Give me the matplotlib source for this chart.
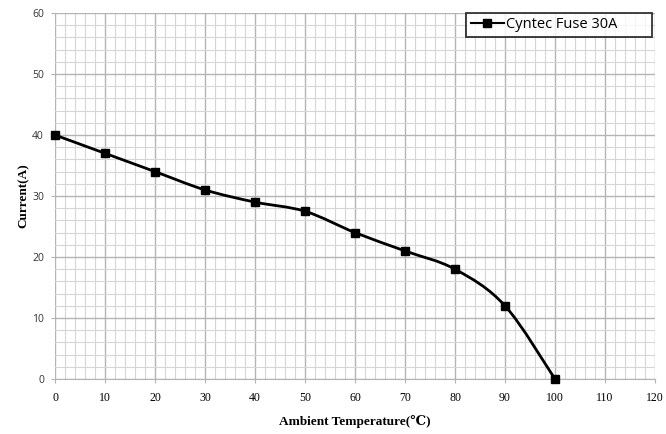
import matplotlib as mpl
mpl.use('Agg')
import matplotlib.pyplot as plt
from matplotlib.path import Path
from matplotlib.patches import PathPatch
from matplotlib.lines import Line2D
import numpy as np

temps = [0, 10, 20, 30, 40, 50, 60, 70, 80, 90, 100]
current = [40, 37, 34, 31, 29, 27.5, 24, 21, 18, 12, 0]
series_name = "Cyntec Fuse 30A"

fig = plt.figure(figsize=(6.66, 4.34), dpi=100)
ax = fig.add_axes([0.0826, 0.1267, 0.9009, 0.8433])

ax.set_xlim(0, 120)
ax.set_ylim(0, 60)
ax.set_xticks(np.arange(0, 121, 10))
ax.set_yticks(np.arange(0, 61, 10))
ax.set_xticks(np.arange(0, 121, 2), minor=True)
ax.set_yticks(np.arange(0, 61, 2), minor=True)
ax.grid(which='major', color='#b4b4b4', lw=1.0)
ax.grid(which='minor', color='#d6d6d6', lw=0.8)
ax.set_axisbelow(True)
for s in ax.spines.values():
    s.set_visible(False)
ax.spines['bottom'].set_visible(True)
ax.spines['bottom'].set_color('#b4b4b4')
ax.tick_params(which='minor', length=0)
ax.tick_params(which='major', length=3, color='#b4b4b4')
ax.tick_params(axis='x', pad=6)
ax.tick_params(axis='y', pad=5)

for lb in ax.get_xticklabels():
    lb.set_fontfamily('Liberation Serif')
    lb.set_fontsize(8.5)
for lb in ax.get_yticklabels():
    lb.set_fontfamily('Open Sans')
    lb.set_fontsize(7.5)
    lb.set_color('#333333')

# smoothed line (Excel style bezier through the points)
pts = np.column_stack([temps, current]).astype(float)
verts = [tuple(pts[0])]
codes = [Path.MOVETO]
n = len(pts)
for i in range(n - 1):
    p0 = pts[max(i - 1, 0)]
    p1 = pts[i]
    p2 = pts[i + 1]
    p3 = pts[min(i + 2, n - 1)]
    c1 = p1 + (p2 - p0) / 6
    c2 = p2 - (p3 - p1) / 6
    verts += [tuple(c1), tuple(c2), tuple(p2)]
    codes += [Path.CURVE4] * 3
ax.add_patch(PathPatch(Path(verts, codes), fill=False, lw=2.0, color='black', zorder=3))
ax.plot(temps, current, linestyle='none', marker='s', ms=5.5, color='black', zorder=4, clip_on=False)

handle = Line2D([], [], color='black', lw=1.5, marker='s', ms=5.5)
leg = ax.legend([handle], [series_name + '        '], loc='upper right',
                bbox_to_anchor=(652 / 666, 1 - 13 / 434), bbox_transform=fig.transFigure,
                frameon=True, fancybox=False, handlelength=2.3, handletextpad=0.15,
                borderpad=0.3, borderaxespad=0, prop={'family': 'Open Sans', 'size': 10.5})
leg.get_frame().set_edgecolor('black')
leg.get_frame().set_linewidth(1.3)

ax.set_xlabel('Ambient Temperature(℃)', family=['Liberation Serif', 'DejaVu Serif'],
              fontweight='bold', fontsize=9.5, labelpad=8)
ax.set_ylabel('Current(A)', family=['Liberation Serif', 'DejaVu Serif'],
              fontweight='bold', fontsize=9.5, labelpad=2)

plt.savefig('out.png', dpi=100)
